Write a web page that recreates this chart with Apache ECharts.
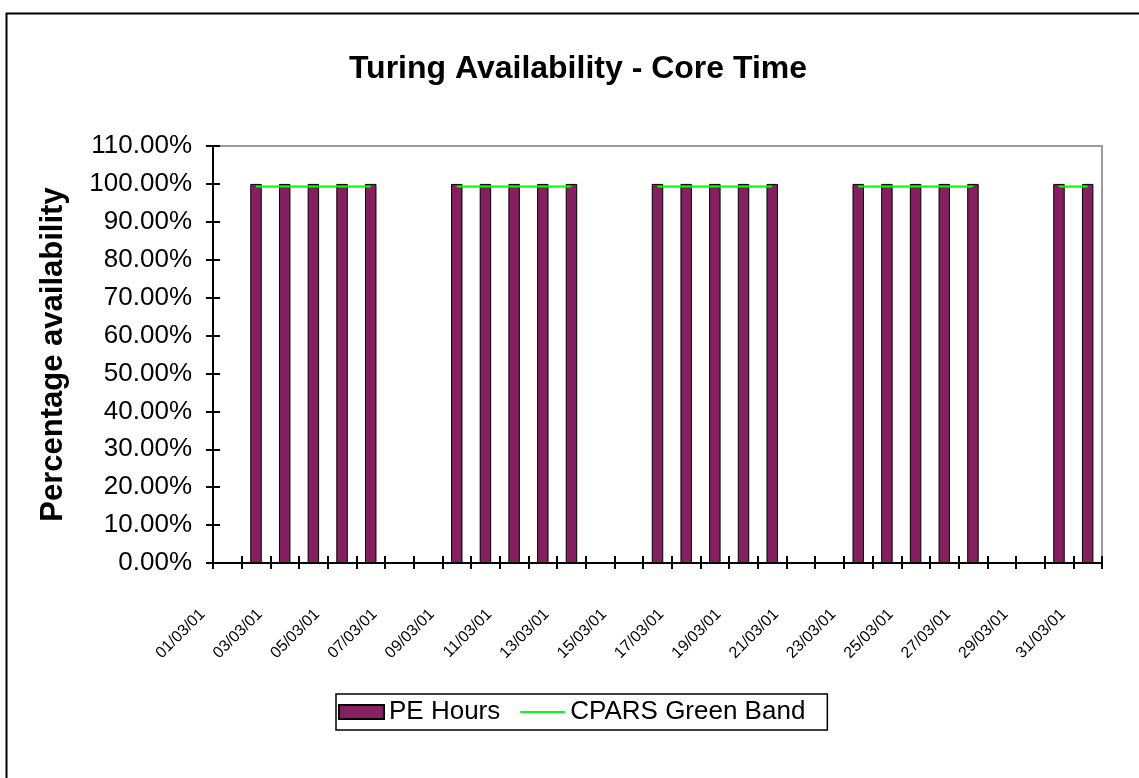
<!DOCTYPE html>
<html>
<head>
<meta charset="utf-8">
<title>Turing Availability - Core Time</title>
<script src="https://cdn.jsdelivr.net/npm/echarts@6/dist/echarts.min.js"></script>
<style>
  html, body { margin: 0; padding: 0; background: #fff; }
  #chart { width: 1139px; height: 778px; }
</style>
</head>
<body>
<div id="chart"></div>
<script>
// Days of March 2001 (dd/mm/yy)
const dates = [
  '01/03/01','02/03/01','03/03/01','04/03/01','05/03/01','06/03/01','07/03/01',
  '08/03/01','09/03/01','10/03/01','11/03/01','12/03/01','13/03/01','14/03/01',
  '15/03/01','16/03/01','17/03/01','18/03/01','19/03/01','20/03/01','21/03/01',
  '22/03/01','23/03/01','24/03/01','25/03/01','26/03/01','27/03/01','28/03/01',
  '29/03/01','30/03/01','31/03/01'
];

// Core-time availability per day, percent (null = no core time that day)
const peHours = [
  null, 100, 100, 100, 100, 100, null,
  null, 100, 100, 100, 100, 100, null,
  null, 100, 100, 100, 100, 100, null,
  null, 100, 100, 100, 100, 100, null,
  null, 100, 100
];

// CPARS green band threshold, drawn on core-time days only
const greenBand = [
  null, 99.3, 99.3, 99.3, 99.3, 99.3, null,
  null, 99.3, 99.3, 99.3, 99.3, 99.3, null,
  null, 99.3, 99.3, 99.3, 99.3, 99.3, null,
  null, 99.3, 99.3, 99.3, 99.3, 99.3, null,
  null, 99.3, 99.3
];

// Value axis range, percent
const yMin = 0;
const yMax = 110;
const yStep = 10;

const FONT = "'Liberation Sans', Arial, sans-serif";

const chart = echarts.init(document.getElementById('chart'), null, { renderer: 'canvas' });

const valueAxisBase = {
  type: 'value',
  min: yMin,
  max: yMax,
  interval: yStep,
  position: 'left',
  splitLine: { show: false },
  axisLine: { show: true, lineStyle: { color: '#000', width: 2 } }
};

const catAxisBase = {
  type: 'category',
  data: dates,
  position: 'bottom',
  boundaryGap: true,
  splitLine: { show: false },
  axisLine: { show: true, onZero: false, lineStyle: { color: '#000', width: 2 } }
};

chart.setOption({
  animation: false,
  backgroundColor: '#fff',
  title: {
    text: 'Turing Availability - Core Time',
    left: 578,
    textAlign: 'center',
    top: 53,
    padding: 0,
    textStyle: { fontFamily: FONT, fontSize: 32, fontWeight: 'bold', color: '#000' }
  },
  graphic: [
    {
      type: 'rect',
      left: 4,
      top: 11,
      z: -1,
      shape: { width: 1160, height: 800 },
      style: { fill: 'none', stroke: '#000', lineWidth: 2 }
    }
  ],
  legend: {
    left: 336,
    top: 694,
    orient: 'horizontal',
    padding: [5, 22, 5, 2],
    itemGap: 19,
    itemWidth: 45,
    itemHeight: 14,
    borderColor: '#000',
    borderWidth: 1.5,
    textStyle: { fontFamily: FONT, fontSize: 26, color: '#000' },
    data: [
      { name: 'PE Hours', icon: 'rect' },
      { name: 'CPARS Green Band', itemStyle: { opacity: 0 } }
    ]
  },
  grid: {
    left: 213,
    right: 37,
    top: 146,
    bottom: 215,
    show: true,
    borderColor: '#9a9a9a',
    borderWidth: 2,
    backgroundColor: '#fff'
  },
  xAxis: [
    Object.assign({}, catAxisBase, {
      axisTick: { show: true, interval: 0, length: 6, inside: false, lineStyle: { color: '#000', width: 2 } },
      axisLabel: {
        interval: 1,
        rotate: 45,
        margin: 24,
        padding: [0, 35, 0, 0],
        fontFamily: FONT,
        fontSize: 16,
        color: '#000'
      }
    }),
    Object.assign({}, catAxisBase, {
      axisTick: { show: true, interval: 0, length: 7, inside: true, lineStyle: { color: '#000', width: 2 } },
      axisLabel: { show: false }
    })
  ],
  yAxis: [
    Object.assign({}, valueAxisBase, {
      name: 'Percentage availability',
      nameLocation: 'middle',
      nameRotate: 90,
      nameGap: 144,
      nameTextStyle: { fontFamily: FONT, fontSize: 31, fontWeight: 'bold', color: '#000' },
      axisTick: { show: true, length: 7, inside: false, lineStyle: { color: '#000', width: 2 } },
      axisLabel: {
        margin: 21,
        fontFamily: FONT,
        fontSize: 26,
        color: '#000',
        formatter: v => v.toFixed(2) + '%'
      }
    }),
    Object.assign({}, valueAxisBase, {
      axisTick: { show: true, length: 7, inside: true, lineStyle: { color: '#000', width: 2 } },
      axisLabel: { show: false }
    })
  ],
  series: [
    {
      name: 'PE Hours',
      type: 'bar',
      xAxisIndex: 0,
      yAxisIndex: 0,
      data: peHours,
      barWidth: '40%',
      itemStyle: {
        color: '#84205f',
        borderColor: '#000',
        borderWidth: 1
      },
      emphasis: { disabled: true }
    },
    {
      name: 'CPARS Green Band',
      type: 'line',
      xAxisIndex: 0,
      yAxisIndex: 0,
      data: greenBand,
      connectNulls: false,
      symbol: 'none',
      lineStyle: { color: '#00ff00', width: 2 },
      itemStyle: { color: '#00ff00' },
      z: 3
    }
  ]
});
</script>
</body>
</html>
